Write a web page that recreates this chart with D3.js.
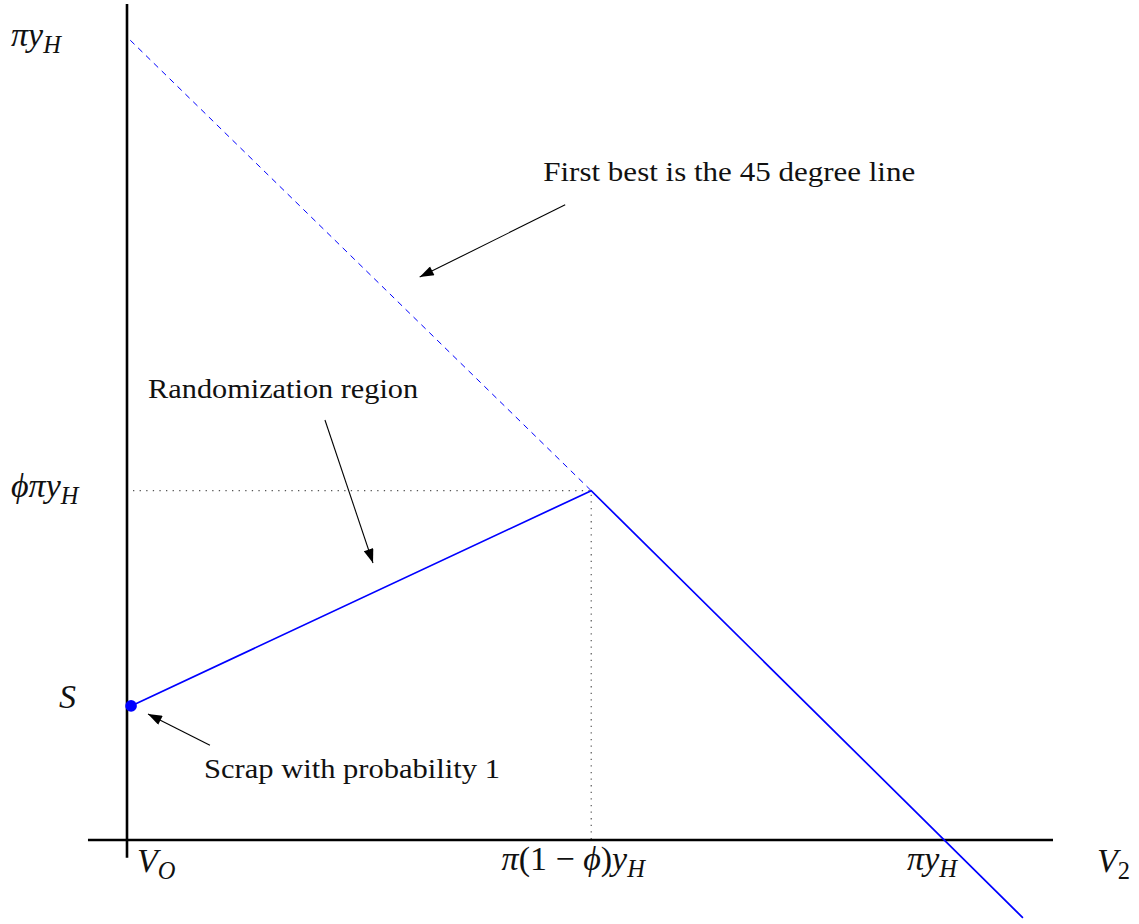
<!DOCTYPE html>
<html>
<head>
<meta charset="utf-8">
<script src="https://cdn.jsdelivr.net/npm/d3@7"></script>
<style>
  html, body { margin: 0; padding: 0; background: #fff; }
  svg { display: block; }
  svg text { font-family: "Liberation Serif", "DejaVu Serif", "Times New Roman", serif; }
</style>
</head>
<body>
<svg id="chart" width="1139" height="924"></svg>
<script>
// ---------- data (units: πy_H = 1) ----------
const solidLine  = [{x: 0.005, y: 0.167}, {x: 0.571, y: 0.435}, {x: 1.102, y: -0.097}];
const dashedLine = [{x: 0.004, y: 0.996}, {x: 0.571, y: 0.435}];
const kink       = {x: 0.571, y: 0.435};
const scrapPoint = {x: 0.005, y: 0.167};

const xTickValues = [0, 0.571, 1];
const xTickLabels = [
  [{t: "V", i: true}, {t: "O", i: true, sub: true}],
  [{t: "π", i: true}, {t: "(1 − "}, {t: "ϕ", i: true}, {t: ")"}, {t: "y", i: true}, {t: "H", i: true, sub: true}],
  [{t: "πy", i: true}, {t: "H", i: true, sub: true}]
];
const yTickValues = [1, 0.435, 0.167];
const yTickLabels = [
  [{t: "πy", i: true}, {t: "H", i: true, sub: true}],
  [{t: "ϕπy", i: true}, {t: "H", i: true, sub: true}],
  [{t: "S", i: true}]
];
const xAxisLabel = [{t: "V", i: true}, {t: "2", sub: true}];

const annotations = [
  {text: "First best is the 45 degree line", tx: 0.512, ty: 0.821, w: 372, from: [0.539, 0.791], to: [0.360, 0.701]},
  {text: "Randomization region",            tx: 0.026, ty: 0.550, w: 270, from: [0.2435, 0.523], to: [0.3026, 0.345]},
  {text: "Scrap with probability 1",        tx: 0.0947, ty: 0.0772, w: 296, from: [0.102, 0.118], to: [0.0258, 0.157]}
];

// ---------- scales ----------
const x = d3.scaleLinear().domain([0, 1]).range([127, 940]);
const y = d3.scaleLinear().domain([0, 1]).range([840, 37]);

const svg = d3.select("#chart");

svg.append("defs").append("marker")
  .attr("id", "arrow")
  .attr("viewBox", "0 0 14 10")
  .attr("refX", 14).attr("refY", 5)
  .attr("markerWidth", 15).attr("markerHeight", 10)
  .attr("markerUnits", "userSpaceOnUse")
  .attr("orient", "auto")
  .append("path").attr("d", "M0,0 L14,5 L0,10 Z").attr("fill", "#000");

// dotted guide lines
svg.append("line")
  .attr("x1", x(0) + 6).attr("y1", y(kink.y))
  .attr("x2", x(kink.x)).attr("y2", y(kink.y))
  .attr("stroke", "#555").attr("stroke-width", 1.2).attr("stroke-dasharray", "1.3,5.3");
svg.append("line")
  .attr("x1", x(kink.x)).attr("y1", y(kink.y) + 4)
  .attr("x2", x(kink.x)).attr("y2", y(0))
  .attr("stroke", "#555").attr("stroke-width", 1.2).attr("stroke-dasharray", "1.3,5.3");

// axes
svg.append("line")
  .attr("x1", x(-0.048)).attr("y1", y(0)).attr("x2", x(1.139)).attr("y2", y(0))
  .attr("stroke", "#000").attr("stroke-width", 2.6);
svg.append("line")
  .attr("x1", x(0)).attr("y1", y(-0.022)).attr("x2", x(0)).attr("y2", y(1.041))
  .attr("stroke", "#000").attr("stroke-width", 2.6);

const line = d3.line().x(d => x(d.x)).y(d => y(d.y));

svg.append("path").datum(dashedLine).attr("d", line)
  .attr("fill", "none").attr("stroke", "#0000ff").attr("stroke-width", 1)
  .attr("stroke-dasharray", "6,5");
svg.append("path").datum(solidLine).attr("d", line)
  .attr("fill", "none").attr("stroke", "#0000ff").attr("stroke-width", 1.7);

svg.append("circle")
  .attr("cx", x(scrapPoint.x)).attr("cy", y(scrapPoint.y)).attr("r", 5.8)
  .attr("fill", "#0000ff");

// math label helper
function mathLabel(parts, px, py, anchor, size) {
  const t = svg.append("text")
    .attr("x", px).attr("y", py)
    .attr("text-anchor", anchor)
    .attr("font-size", size)
    .attr("fill", "#111");
  let shifted = false;
  parts.forEach(p => {
    const s = t.append("tspan").text(p.t)
      .attr("font-style", p.i ? "italic" : "normal");
    if (p.sub && !shifted) { s.attr("dy", size * 0.22).attr("font-size", size * 0.72); shifted = true; }
    else if (!p.sub && shifted) { s.attr("dy", -size * 0.22); shifted = false; }
    else if (p.sub) { s.attr("font-size", size * 0.72); }
  });
  return t;
}

// x tick labels
const xOffsets = [{dx: 10, a: "start"}, {dx: -18, a: "middle"}, {dx: -8, a: "middle"}];
xTickValues.forEach((v, i) => {
  mathLabel(xTickLabels[i], x(v) + xOffsets[i].dx, i === 0 ? 872 : 870, xOffsets[i].a, 34);
});
mathLabel(xAxisLabel, 1097, 872, "start", 34);

// y tick labels
const yLabelX = [11, 11, 59];
const yBaseDy = [9, 6, 2];
yTickValues.forEach((v, i) => {
  mathLabel(yTickLabels[i], yLabelX[i], y(v) + yBaseDy[i], "start", 34);
});

// annotations
annotations.forEach(a => {
  svg.append("text")
    .attr("x", x(a.tx)).attr("y", y(a.ty))
    .attr("font-size", 27)
    .attr("fill", "#111")
    .attr("textLength", a.w).attr("lengthAdjust", "spacingAndGlyphs")
    .text(a.text);
  svg.append("line")
    .attr("x1", x(a.from[0])).attr("y1", y(a.from[1]))
    .attr("x2", x(a.to[0])).attr("y2", y(a.to[1]))
    .attr("stroke", "#000").attr("stroke-width", 1.1)
    .attr("marker-end", "url(#arrow)");
});
</script>
</body>
</html>
